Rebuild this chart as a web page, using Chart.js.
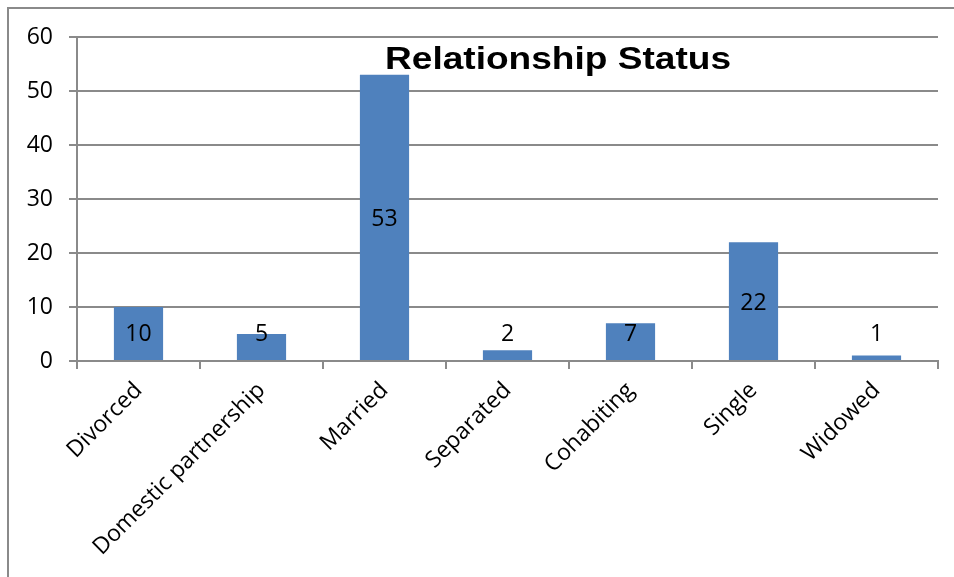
<!DOCTYPE html>
<html>
<head>
<meta charset="utf-8">
<script src="https://cdn.jsdelivr.net/npm/chart.js@4"></script>
<style>
html,body{margin:0;padding:0;background:#fff;}
#wrap{position:relative;width:954px;height:577px;}
#frame{position:absolute;left:7px;top:7px;width:960px;height:600px;border:2px solid #8a8a8a;box-sizing:border-box;}
canvas{position:absolute;left:0;top:0;}
</style>
</head>
<body>
<div id="wrap"><div id="frame"></div><canvas id="c" width="954" height="577"></canvas></div>
<script>
const categories = ["Divorced","Domestic partnership","Married","Separated","Cohabiting","Single","Widowed"];
const values = [10,5,53,2,7,22,1];
const yTicks = [0,10,20,30,40,50,60];
const titleText = "Relationship Status";

const FONT = "'Open Sans', sans-serif";

const labelPlugin = {
  id: 'labels',
  afterDatasetsDraw(chart) {
    const ctx = chart.ctx;
    const meta = chart.getDatasetMeta(0);
    const ys = chart.scales.y;
    ctx.save();
    ctx.fillStyle = '#000';
    ctx.font = "23px " + FONT;
    ctx.textAlign = 'center';
    ctx.textBaseline = 'middle';
    meta.data.forEach((bar, i) => {
      const v = values[i];
      const y = ys.getPixelForValue(Math.max(v / 2, 5.2)) + 2;
      ctx.fillText(String(v), bar.x, y);
    });
    // title
    ctx.font = "bold 32px 'Liberation Sans', Arial, sans-serif";
    ctx.textAlign = 'left';
    ctx.textBaseline = 'alphabetic';
    const w = ctx.measureText(titleText).width;
    const target = 346;
    ctx.translate(385, 69);
    ctx.scale(target / w, 1);
    ctx.fillText(titleText, 0, 0);
    ctx.restore();
  }
};

new Chart(document.getElementById('c'), {
  type: 'bar',
  data: {
    labels: categories,
    datasets: [{
      data: values,
      backgroundColor: '#4F81BD',
      borderWidth: 0,
      categoryPercentage: 1,
      barPercentage: 0.4
    }]
  },
  options: {
    responsive: false,
    animation: false,
    devicePixelRatio: 1,
    layout: { padding: { left: 0, right: 16, top: 37, bottom: 0 } },
    plugins: { legend: { display: false }, title: { display: false }, tooltip: { enabled: false } },
    scales: {
      x: {
        grid: { display: true, drawOnChartArea: false, tickLength: 8, color: '#8a8a8a', lineWidth: 2, offset: true },
        border: { display: true, color: '#8a8a8a', width: 2 },
        ticks: { color: '#000', font: { family: FONT, size: 23 }, maxRotation: 45, minRotation: 45, padding: 8, autoSkip: false },
        afterFit(s) { s.height = 216; }
      },
      y: {
        min: 0, max: 60,
        afterBuildTicks(s) { s.ticks = yTicks.map(v => ({ value: v })); },
        grid: { color: '#8a8a8a', lineWidth: 2, tickLength: 8 },
        border: { display: true, color: '#8a8a8a', width: 2 },
        ticks: { color: '#000', font: { family: FONT, size: 23 }, padding: 16 },
        afterFit(s) { s.width = 77; }
      }
    }
  },
  plugins: [labelPlugin]
});
</script>
</body>
</html>
